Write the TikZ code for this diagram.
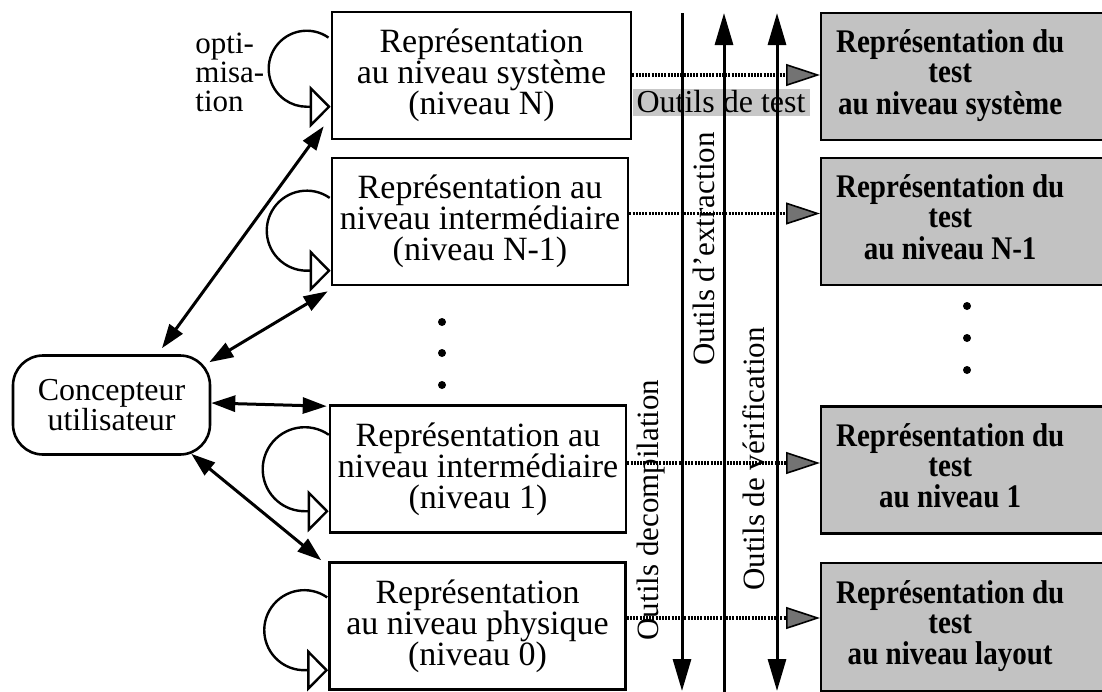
\documentclass[tikz,border=0pt]{standalone}
\usepackage{fontspec}
\setmainfont{Liberation Serif}
\newfontfamily\condbold[FakeStretch=0.88]{Liberation Serif Bold}
\usetikzlibrary{arrows.meta,calc}
\begin{document}
\begin{tikzpicture}[x=0.5pt,y=-0.5pt,
  lbox/.style={draw,line width=1.3pt,minimum width=148pt,minimum height=63.5pt,inner sep=0pt,align=center,font=\fontsize{17}{15.5}\selectfont},
  rbox/.style={draw,line width=1.2pt,fill=black!24,minimum width=145pt,minimum height=63.5pt,inner sep=0pt,anchor=west,font=\condbold\fontsize{16.5}{15}\selectfont},
  cbox/.style={draw,line width=1.3pt,rounded corners=15pt,minimum width=98.5pt,minimum height=49.5pt,inner sep=0pt,align=center,font=\fontsize{16}{15}\selectfont},
  vlabel/.style={rotate=90,inner sep=0pt,font=\fontsize{15.5}{15.5}\selectfont},
  testlabel/.style={fill=black!22,minimum width=88.5pt,minimum height=13.5pt,inner sep=0pt,font=\fontsize{16}{16}\selectfont},
  carrow/.style={line width=1.5pt,{Triangle[length=12pt,width=8pt]}-{Triangle[length=12pt,width=8pt]}},
  loopline/.style={line width=1.2pt,-{Triangle[open,length=10.5pt,width=21pt,line width=1.2pt,fill=white]}},
  harrow/.style={line width=1.8pt,black,dash pattern=on 1pt off 0.6pt,-{Triangle[length=17pt,width=11pt,fill=black!55,line width=0.8pt]}},
  vline/.style={line width=1.5pt},
  vtip/.style={-{Triangle[length=16pt,width=9pt]}},
  dotmark/.style={fill=black}
]
\useasboundingbox (0,0) rectangle (1102,691);

% left boxes
\node[lbox,minimum width=149.5pt] (bN) at (481.5,75.5) {Représentation\\au niveau système\\(niveau N)};
\node[lbox] (bN1) at (480,221.5) {Représentation au\\niveau intermédiaire\\(niveau N-1)};
\node[lbox] (b1) at (478,469) {Représentation au\\niveau intermédiaire\\(niveau 1)};
\node[lbox] (b0) at (477.5,626) {Représentation\\au niveau physique\\(niveau 0)};

% right boxes
\node[rbox] (rN) at (820,76.5) {\begin{tabular}{@{}c@{}}Représentation du\\test\\au niveau système\end{tabular}\kern16pt};
\node[rbox] (rN1) at (820,221.5) {\begin{tabular}{@{}c@{}}Représentation du\\test\\au niveau N-1\end{tabular}\kern16pt};
\node[rbox] (r1) at (820,470) {\begin{tabular}{@{}c@{}}Représentation du\\test\\au niveau 1\end{tabular}\kern16pt};
\node[rbox,minimum height=64pt] (r0) at (820,627) {\begin{tabular}{@{}c@{}}Représentation du\\test\\au niveau layout\end{tabular}\kern16pt};

% designer
\node[cbox] (c) at (111.5,405) {Concepteur\\utilisateur};

% optimisation label
\node[anchor=west,align=left,inner sep=0pt,font=\fontsize{15.5}{14.5}\selectfont] (opt) at (195,72) {opti-\\misa-\\tion};

% self loops
\draw[loopline] ($(bN.north west)+(-2.2,26.9)$) arc[start angle=55,end angle=270,radius=19pt] -- ($(bN.north west)+(0,96)$);
\draw[loopline] ($(bN1.north west)+(-1,41.2)$) arc[start angle=55,end angle=270,radius=20pt] -- ($(bN1.north west)+(0,114)$);
\draw[loopline] ($(b1.north west)+(0.1,30.6)$) arc[start angle=55,end angle=270,radius=21pt] -- ($(b1.north west)+(0,107)$);
\draw[loopline] ($(b0.north west)+(-1,36.2)$) arc[start angle=55,end angle=270,radius=20pt] -- ($(b0.north west)+(0,109)$);

% designer arrows
\draw[carrow] ($(c.north)+(50.5,-6)$) -- ($(bN.south west)+(-7,-14)$);
\draw[carrow] ($(c.north east)+(-2,8)$) -- ($(bN1.south west)+(-3,5)$);
\draw[carrow] ($(c.east)+(0,-2)$) -- ($(b1.north west)+(-2,2)$);
\draw[carrow] ($(c.south east)+(-20,-2)$) -- ($(b0.north west)+(-7,-1)$);

% dots
\fill[dotmark] (442,322) circle[radius=2pt];
\fill[dotmark] (442,353) circle[radius=2pt];
\fill[dotmark] (442,385) circle[radius=2pt];
\fill[dotmark] (967,306) circle[radius=2pt];
\fill[dotmark] (967,338) circle[radius=2pt];
\fill[dotmark] (967,370) circle[radius=2pt];

% tool labels
\node[testlabel] (ot) at (721,102) {Outils de test};
\node[vlabel] (l1) at (651,510) {Outils decompilation};
\node[vlabel] (l2) at (704,249) {Outils d'extraction};
\node[vlabel] (l3) at (754,459) {Outils de vérification};

% horizontal test arrows
\coordinate (hN) at ($(bN.east)+(0,-0.5)$);
\coordinate (hN1) at ($(bN1.east)+(0,-8)$);
\coordinate (h1) at ($(b1.east)+(0,-6)$);
\coordinate (h0) at ($(b0.east)+(0,-8)$);
\draw[harrow] (hN) -- (hN -| rN.west);
\draw[harrow] (hN1) -- (hN1 -| rN1.west);
\draw[harrow] (h1) -- (h1 -| r1.west);
\draw[harrow] (h0) -- (h0 -| r0.west);

% vertical tool lines
\coordinate (v1t) at (682,13);
\coordinate (v1b) at (682,691);
\coordinate (v2t) at (724,13);
\coordinate (v2b) at (724,700);
\coordinate (v3t) at (777,13);
\coordinate (v3b) at (777,691);
\draw[vline,vtip] (v1t) -- (v1b);
\draw[vline,vtip] (v2b) -- (v2t);
\draw[vline,{Triangle[length=16pt,width=9pt]}-{Triangle[length=16pt,width=9pt]}] (v3t) -- (v3b);
\end{tikzpicture}
\end{document}
